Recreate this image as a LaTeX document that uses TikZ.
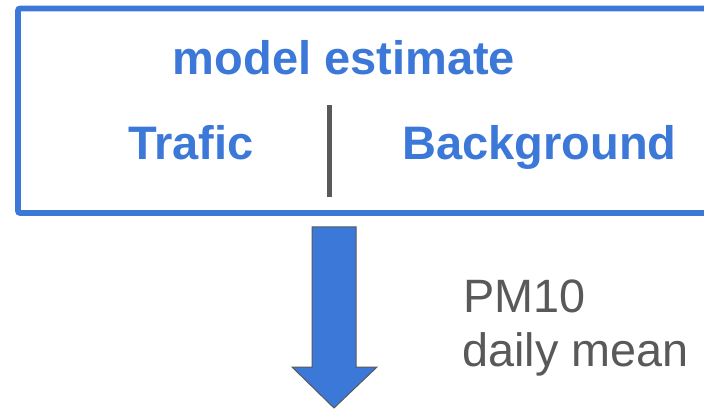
\documentclass[tikz,border=0pt]{standalone}
\usepackage{fontspec}
\setmainfont{Liberation Sans}
\definecolor{gblue}{HTML}{3C78D8}
\definecolor{ggray}{HTML}{595959}
\tikzset{
  frame/.style={draw=gblue, line width=2.8pt, rounded corners=1pt},
  title/.style={anchor=base west, inner sep=0pt, text=gblue, font=\fontsize{23.5}{28}\selectfont\bfseries},
  note/.style={anchor=base west, inner sep=0pt, text=ggray, font=\fontsize{23.4}{28}\selectfont},
  divider/.style={draw=ggray, line width=2.6pt},
  bigarrow/.style={fill=gblue, draw=ggray, line width=0.5pt, line join=miter}
}
\begin{document}
\begin{tikzpicture}[x=0.5pt, y=-0.5pt]
  \clip (0,0) rectangle (704,410);
  \fill[white] (0,0) rectangle (704,410);

  % estimate box (its right side runs past the page edge)
  \draw[frame] (18,8.5) rectangle (720,213);

  \node[title] (est) at (172.5,75) {model estimate};
  \node[title] (traf) at (128,160) {Trafic};
  \node[title] (bg) at (402,160) {Background};

  % separator between the two components
  \coordinate (sepTop) at (329.5,105);
  \coordinate (sepBot) at (329.5,197);
  \draw[divider] (sepTop) -- (sepBot);

  % downward block arrow
  \draw[bigarrow] (312,227) -- (356,227) -- (356,367) -- (377,367)
     -- (334,408) -- (292,367) -- (312,367) -- cycle;

  \node[note] (pm) at (463,313) {PM10};
  \node[note] (mean) at (462,366.5) {daily mean};
\end{tikzpicture}
\end{document}
